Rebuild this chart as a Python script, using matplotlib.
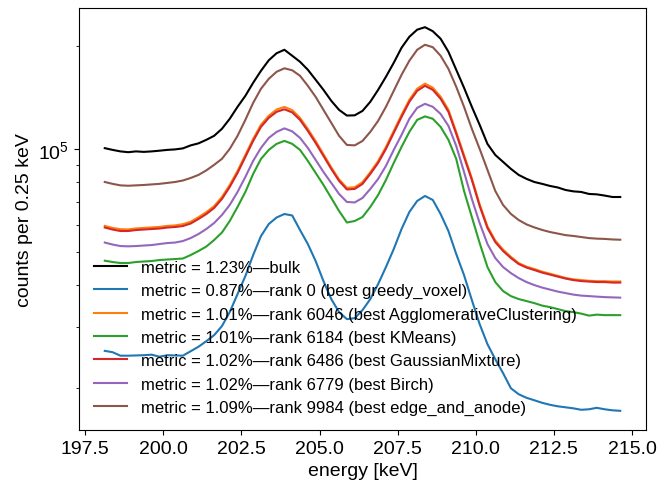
import numpy as np
import matplotlib
matplotlib.use("Agg")
import matplotlib.pyplot as plt

plt.rcParams['font.family'] = ['Liberation Sans', 'DejaVu Sans']
plt.rcParams['mathtext.fontset'] = 'custom'
plt.rcParams['mathtext.rm'] = 'Liberation Sans'
plt.rcParams['mathtext.it'] = 'Liberation Sans:italic'
plt.rcParams['mathtext.bf'] = 'Liberation Sans:bold'

energy = 198.125 + 0.25 * np.arange(67)

bulk = [100500, 99330, 98330, 97800, 98330, 98000, 98330, 98790, 99330, 99660,
        100340, 102400, 103800, 106300, 109200, 114500, 122500, 132800, 143000, 156200,
        169300, 181800, 190600, 195100, 187400, 179900, 170500, 159400, 148900, 138300,
        130100, 125200, 125400, 129200, 137400, 148900, 162600, 178700, 197800, 213000,
        223400, 227200, 221100, 210200, 192500, 170500, 151000, 132800, 117600, 103400,
        96000, 91600, 87400, 83900, 81700, 80000, 79000, 77900, 77100, 75800,
        75100, 74800, 73800, 73600, 73000, 72300, 72300]

rank0 = [25620, 25390, 24800, 24800, 24840, 24880, 24970, 24630, 24880, 24840,
         24800, 25560, 26340, 27350, 28480, 30270, 33270, 37570, 42410, 48890,
         55560, 60260, 62970, 64460, 63830, 57860, 52650, 46950, 41010, 36330,
         33270, 31730, 31940, 33720, 36330, 40190, 45080, 50900, 58260, 65350,
         70400, 72800, 70870, 64460, 57480, 49220, 42700, 36080, 30680, 26800,
         24220, 22040, 19910, 19120, 18670, 18360, 18050, 17810, 17630, 17510,
         17390, 17220, 17280, 17450, 17280, 17160, 17100]

rank6046 = [59500, 58700, 58200, 58100, 58500, 58700, 58900, 59100, 59500, 59700,
            60200, 61200, 63100, 65300, 68000, 72300, 78400, 86200, 96000, 107000,
            117700, 125100, 130400, 132700, 129900, 123300, 114400, 105400, 96500, 88300,
            81400, 76900, 77200, 79900, 85500, 92100, 101300, 112900, 125800, 139300,
            150100, 155300, 151100, 142200, 130200, 112200, 95900, 82000, 68800, 59300,
            53900, 50700, 48300, 46300, 45200, 44500, 43700, 43100, 42500, 41900,
            41500, 41300, 41100, 41000, 41000, 40900, 40900]

rank6184 = [47050, 46640, 46320, 46320, 46640, 46800, 46950, 47270, 47430, 47590,
            47750, 48890, 50230, 51760, 54090, 56890, 61490, 67620, 74800, 84480,
            93470, 99330, 103440, 105550, 103440, 99330, 92220, 85050, 78430, 71830,
            65780, 60880, 61490, 63180, 67620, 73300, 81100, 90980, 101360, 112160,
            121600, 124500, 122500, 116000, 106300, 93470, 75300, 63180, 53000, 45080,
            40740, 38340, 37060, 36330, 35840, 35350, 34760, 34410, 33950, 33490,
            33270, 32930, 32490, 32710, 32600, 32600, 32600]

rank6486 = [58850, 58060, 57480, 57480, 57860, 58060, 58260, 58450, 58850, 59050,
            59450, 60460, 62340, 64460, 67140, 71350, 77370, 85050, 94740, 105550,
            116000, 123300, 128400, 130600, 127900, 121600, 112900, 104100, 95380, 87370,
            80570, 76070, 76330, 78960, 84480, 90980, 100000, 111400, 124100, 137400,
            147900, 153000, 148900, 140200, 128400, 110700, 94740, 81100, 68060, 58660,
            53360, 50230, 47910, 46010, 44930, 44180, 43430, 42850, 42270, 41710,
            41290, 41010, 40880, 40740, 40740, 40600, 40600]

rank6779 = [53180, 52470, 51940, 51840, 51940, 52120, 52290, 52650, 53000, 53180,
            53720, 54820, 56320, 58260, 60670, 64040, 68530, 74800, 82770, 92220,
            100680, 107700, 112160, 114840, 112550, 107700, 100680, 92840, 85600, 79490,
            73790, 69920, 69690, 71830, 76330, 81660, 89160, 99330, 109900, 122500,
            131900, 135500, 132800, 126600, 116800, 102000, 85600, 71350, 60670, 52650,
            47910, 45080, 43280, 41850, 40740, 39920, 39250, 38730, 38210, 37820,
            37440, 37190, 37060, 36930, 36810, 36740, 36680]

rank9984 = [80000, 79000, 78200, 78000, 78200, 78400, 78700, 79000, 79500, 80000,
            80800, 82200, 83900, 86500, 89800, 93500, 100000, 109200, 121600, 136400,
            150000, 160400, 168200, 172200, 169900, 163700, 153000, 142000, 130100, 119200,
            109200, 102700, 102400, 105500, 112200, 120800, 132800, 147900, 164800, 181200,
            195100, 201800, 198500, 187400, 171600, 152000, 132800, 114500, 100000, 86800,
            75300, 68500, 64500, 61900, 60100, 58900, 57900, 57100, 56500, 55900,
            55600, 55200, 54800, 54600, 54500, 54300, 54200]

series = [bulk, rank0, rank6046, rank6184, rank6486, rank6779, rank9984]
labels = [
    "metric = 1.23%\u2014bulk",
    "metric = 0.87%\u2014rank 0 (best greedy_voxel)",
    "metric = 1.01%\u2014rank 6046 (best AgglomerativeClustering)",
    "metric = 1.01%\u2014rank 6184 (best KMeans)",
    "metric = 1.02%\u2014rank 6486 (best GaussianMixture)",
    "metric = 1.02%\u2014rank 6779 (best Birch)",
    "metric = 1.09%\u2014rank 9984 (best edge_and_anode)",
]
colors = ["black", "C0", "C1", "C2", "C3", "C4", "C5"]

fig = plt.figure(figsize=(6.6, 4.89), dpi=100)
ax = fig.add_axes([0.1197, 0.1186, 0.8591, 0.863])
for y, lab, c in zip(series, labels, colors):
    ax.plot(energy, y, color=c, label=lab, lw=1.5)
ax.set_yscale('log')
ax.set_xlabel("energy [keV]", fontsize=14)
ax.set_ylabel("counts per 0.25 keV", fontsize=14)
ax.tick_params(axis='both', which='major', labelsize=14)
ax.legend(loc='lower left', frameon=False, fontsize=12)
fig.savefig("out.png", dpi=100)
